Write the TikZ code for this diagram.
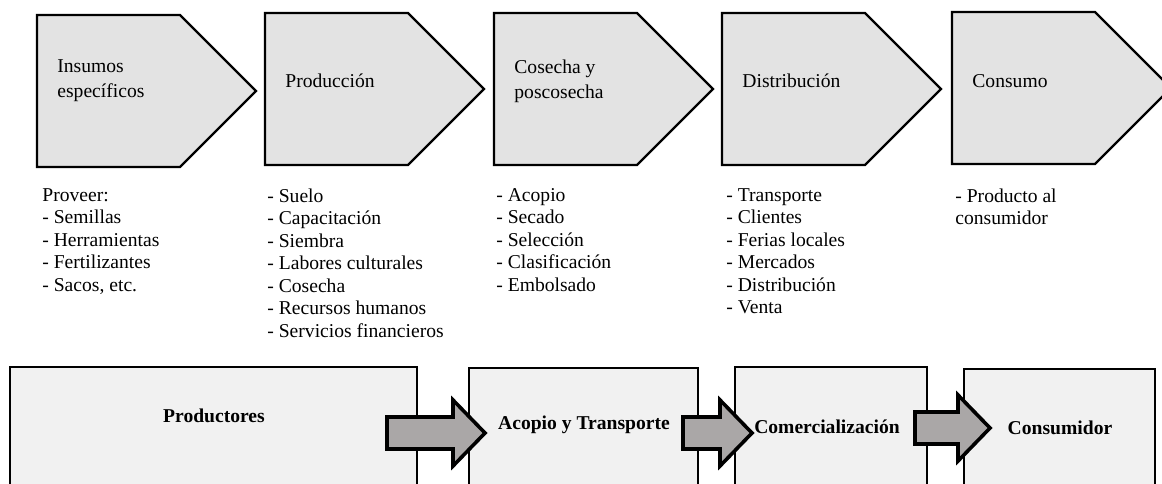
\documentclass[tikz,border=0pt]{standalone}
\usepackage{fontspec}
\setmainfont{Liberation Serif}
\usetikzlibrary{positioning}
\definecolor{grischev}{RGB}{227,227,227}
\definecolor{griscaja}{RGB}{241,241,241}
\definecolor{grisflecha}{RGB}{170,167,167}

\begin{document}
\begin{tikzpicture}[x=0.5pt,y=-0.5pt,
chev/.style={draw=black, line width=1.1pt, fill=grischev, line join=miter},
caja/.style={draw=black, line width=1.2pt, fill=griscaja},
flecha/.style={draw=black, line width=1.8pt, fill=grisflecha, line join=miter},
etq/.style={font=\fontsize{9.8}{12.4}\selectfont, align=left, anchor=west, inner sep=0pt},
lista/.style={font=\fontsize{9.8}{11.25}\selectfont, align=left, anchor=north west, inner sep=0pt},
titulo/.style={font=\fontsize{9.8}{12}\selectfont\bfseries, anchor=base, inner sep=0pt}]
\useasboundingbox (0,0) rectangle (1162,483);

% eslabones de la cadena
\foreach \x/\y/\nom/\txt in {37/15/ins/{Insumos\\específicos}, 265/13/pro/Producción,
    494/13/cos/{Cosecha y\\poscosecha}, 722/13/dis/Distribución, 952/12/con/Consumo}
{
    \draw[chev] (\x,\y) -- ++(143,0) -- ++(76,76) -- ++(-76,76) -- ++(-143,0) -- cycle;
    \node[etq] (\nom) at (\x+20,81) {\txt};
}

% actividades
\node[lista] (lins) at (42,188) {Proveer:\\- Semillas\\- Herramientas\\- Fertilizantes\\- Sacos, etc.};
\node[lista] (lpro) at (267,188) {- Suelo\\- Capacitación\\- Siembra\\- Labores culturales\\- Cosecha\\- Recursos humanos\\- Servicios financieros};
\node[lista] (lcos) at (496,188) {- Acopio\\- Secado\\- Selección\\- Clasificación\\- Embolsado};
\node[lista] (ldis) at (726,188) {- Transporte\\- Clientes\\- Ferias locales\\- Mercados\\- Distribución\\- Venta};
\node[lista] (lcon) at (955,188) {- Producto al\\consumidor};

% actores
\foreach \a/\b/\c in {10/417/367, 469/698/368, 735/927/367, 964/1155/369}
    \draw[caja] (\a,\c) rectangle (\b,500);
\node[titulo] (prod) at (214,422) {Productores};
\node[titulo] (acop) at (584,429) {Acopio y Transporte};
\node[titulo] (come) at (827,433) {Comercialización};
\node[titulo] (cons) at (1060,434) {Consumidor};

% flechas de bloque
\foreach \a/\b/\c in {387/485/433, 683/752/433, 915/990/428}
    \draw[flecha] (\a,\c-16) -- (\b-32,\c-16) -- (\b-32,\c-33) -- (\b,\c)
        -- (\b-32,\c+33) -- (\b-32,\c+16) -- (\a,\c+16) -- cycle;
\end{tikzpicture}
\end{document}
